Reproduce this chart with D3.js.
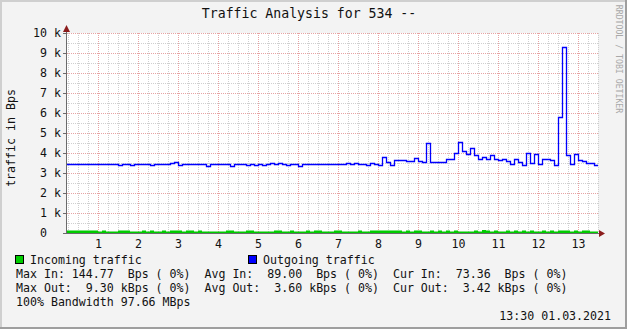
<!DOCTYPE html>
<html>
<head>
<meta charset="utf-8">
<script src="https://cdn.jsdelivr.net/npm/d3@7/dist/d3.min.js"></script>
<style>
  html, body { margin: 0; padding: 0; background: #f3f3f3; }
  svg { display: block; }
  text { font-family: "DejaVu Sans Mono", monospace; white-space: pre; }
</style>
</head>
<body>
<div id="chart"></div>
<script>
// time axis in hours, one sample every 6 minutes
const startHour = 0.2;
const stepHours = 0.1;
const endHour = 13.5;
const xTicks = [1, 2, 3, 4, 5, 6, 7, 8, 9, 10, 11, 12, 13];
const yTicks = [0, 1000, 2000, 3000, 4000, 5000, 6000, 7000, 8000, 9000, 10000];
const yTickLabels = ['0', '1 k', '2 k', '3 k', '4 k', '5 k', '6 k', '7 k', '8 k', '9 k', '10 k'];

// outgoing traffic, kBps
const outgoing = [
  3.47, 3.44, 3.47, 3.47, 3.45, 3.45, 3.47, 3.47, 3.45, 3.47,
  3.44, 3.46, 3.46, 3.42, 3.46, 3.47, 3.41, 3.46, 3.45, 3.47,
  3.45, 3.42, 3.47, 3.44, 3.46, 3.46, 3.50, 3.57, 3.38, 3.47,
  3.44, 3.46, 3.47, 3.43, 3.45, 3.37, 3.46, 3.47, 3.47, 3.46,
  3.46, 3.35, 3.47, 3.47, 3.46, 3.42, 3.46, 3.42, 3.47, 3.40,
  3.46, 3.49, 3.46, 3.50, 3.47, 3.40, 3.47, 3.46, 3.33, 3.46,
  3.46, 3.46, 3.46, 3.46, 3.47, 3.47, 3.46, 3.46, 3.46, 3.46,
  3.50, 3.45, 3.48, 3.46, 3.47, 3.42, 3.48, 3.47, 3.38, 3.82,
  3.57, 3.40, 3.65, 3.65, 3.65, 3.60, 3.62, 3.73, 3.60, 3.55,
  4.48, 3.53, 3.53, 3.55, 3.53, 3.70, 3.70, 4.00, 4.53, 4.10,
  3.95, 4.23, 3.90, 3.68, 3.78, 3.72, 3.88, 3.68, 3.67, 3.70,
  3.60, 3.45, 3.70, 3.55, 3.40, 4.02, 3.50, 3.95, 3.45, 3.70,
  3.68, 3.67, 3.40, 5.80, 9.30, 3.90, 3.45, 3.95, 3.65, 3.60,
  3.50, 3.48, 3.42
];

// incoming traffic, Bps
const incoming = [
  125, 125, 130, 128, 126, 130, 122, 124, 76, 128,
  74, 72, 75, 125, 122, 126, 74, 73, 76, 120,
  75, 124, 72, 74, 127, 73, 125, 128, 122, 74,
  121, 124, 75, 126, 73, 72, 74, 76, 73, 75,
  128, 126, 74, 73, 75, 122, 124, 73, 72, 75,
  74, 76, 125, 124, 73, 72, 121, 74, 73, 75,
  123, 75, 127, 122, 73, 75, 74, 128, 126, 73,
  74, 76, 72, 125, 73, 74, 123, 127, 125, 130,
  128, 126, 122, 124, 72, 126, 73, 125, 122, 75,
  74, 124, 72, 126, 73, 125, 74, 122, 73, 76,
  74, 73, 126, 75, 145, 128, 74, 124, 73, 75,
  123, 74, 126, 73, 122, 75, 125, 74, 73, 126,
  74, 128, 73, 124, 127, 130, 73, 125, 74, 126,
  122, 74, 73
];

const legendRows = [
  'Max In: 144.77  Bps ( 0%)  Avg In:  89.00  Bps ( 0%)  Cur In:  73.36  Bps ( 0%)',
  'Max Out:  9.30 kBps ( 0%)  Avg Out:  3.60 kBps ( 0%)  Cur Out:  3.42 kBps ( 0%)',
  '100% Bandwidth 97.66 MBps'
];

const W = 627, H = 329;
const plot = { left: 67, right: 598, top: 33, bottom: 233 };

const svg = d3.select('#chart').append('svg')
  .attr('width', W)
  .attr('height', H);

// background and 3D frame
svg.append('rect').attr('width', W).attr('height', H).attr('fill', '#f3f3f3');
svg.append('rect').attr('x', 0).attr('y', 0).attr('width', W).attr('height', 2).attr('fill', '#cfcfcf');
svg.append('rect').attr('x', 0).attr('y', 0).attr('width', 2).attr('height', H).attr('fill', '#cfcfcf');
svg.append('rect').attr('x', 0).attr('y', H - 2).attr('width', W).attr('height', 2).attr('fill', '#9e9e9e');
svg.append('rect').attr('x', W - 2).attr('y', 0).attr('width', 2).attr('height', H).attr('fill', '#9e9e9e');

const x = d3.scaleLinear().domain([startHour + 0.025, endHour]).range([plot.left, plot.right]);
const y = d3.scaleLinear().domain([0, 10000]).range([plot.bottom, plot.top]);

svg.append('rect')
  .attr('x', plot.left).attr('y', plot.top)
  .attr('width', plot.right - plot.left).attr('height', plot.bottom - plot.top)
  .attr('fill', '#ffffff');

// minor grid
const minorX = d3.range(0.25, endHour + 0.001, 0.25).filter(t => t % 1 !== 0);
const minorY = d3.range(500, 10000, 1000);
const grid = svg.append('g').attr('shape-rendering', 'crispEdges');
grid.selectAll('.mx').data(minorX).enter().append('line')
  .attr('x1', d => Math.round(x(d)) + 0.5).attr('x2', d => Math.round(x(d)) + 0.5)
  .attr('y1', plot.top).attr('y2', plot.bottom)
  .attr('stroke', '#cfcfcf').attr('stroke-dasharray', '1,1');
grid.selectAll('.my').data(minorY).enter().append('line')
  .attr('x1', plot.left).attr('x2', plot.right)
  .attr('y1', d => Math.round(y(d)) + 0.5).attr('y2', d => Math.round(y(d)) + 0.5)
  .attr('stroke', '#cfcfcf').attr('stroke-dasharray', '1,1');

// major grid
grid.selectAll('.Mx').data(xTicks).enter().append('line')
  .attr('x1', d => Math.round(x(d)) + 0.5).attr('x2', d => Math.round(x(d)) + 0.5)
  .attr('y1', plot.top).attr('y2', plot.bottom)
  .attr('stroke', '#e7a3a3').attr('stroke-dasharray', '1,1');
grid.selectAll('.My').data(yTicks.slice(1)).enter().append('line')
  .attr('x1', plot.left).attr('x2', plot.right)
  .attr('y1', d => Math.round(y(d)) + 0.5).attr('y2', d => Math.round(y(d)) + 0.5)
  .attr('stroke', '#e7a3a3').attr('stroke-dasharray', '1,1');

// series
const times = d3.range(outgoing.length).map(i => startHour + i * stepHours);
const outPts = times.map((t, i) => [t, outgoing[i] * 1000]).concat([[endHour, outgoing[outgoing.length - 1] * 1000]]);
const inPts = times.map((t, i) => [t, incoming[i]]).concat([[endHour, incoming[incoming.length - 1]]]);

svg.append('clipPath').attr('id', 'clip')
  .append('rect')
  .attr('x', plot.left).attr('y', plot.top - 2)
  .attr('width', plot.right - plot.left).attr('height', plot.bottom - plot.top + 2);

const series = svg.append('g').attr('clip-path', 'url(#clip)');

series.append('path')
  .datum(inPts)
  .attr('d', d3.area().curve(d3.curveStepAfter).x(d => x(d[0])).y0(y(0)).y1(d => y(d[1])))
  .attr('fill', '#00cc00');

series.append('path')
  .datum(outPts)
  .attr('d', d3.line().curve(d3.curveStepAfter).x(d => Math.round(x(d[0])) + 0.5).y(d => Math.round(y(d[1])) + 0.5))
  .attr('fill', 'none')
  .attr('stroke', '#0000ff')
  .attr('stroke-width', 1.3);

// axes
const axisColor = '#6b6b6b';
svg.append('line')
  .attr('x1', plot.left - 0.5).attr('x2', plot.left - 0.5)
  .attr('y1', plot.top - 3).attr('y2', plot.bottom + 1)
  .attr('stroke', axisColor);
svg.append('line')
  .attr('x1', plot.left - 1).attr('x2', plot.right + 1)
  .attr('y1', plot.bottom + 0.5).attr('y2', plot.bottom + 0.5)
  .attr('stroke', axisColor);
svg.selectAll('.yt').data(yTicks).enter().append('line')
  .attr('x1', plot.left - 4).attr('x2', plot.left - 1)
  .attr('y1', d => Math.round(y(d)) + 0.5).attr('y2', d => Math.round(y(d)) + 0.5)
  .attr('stroke', axisColor);

// arrows
svg.append('path')
  .attr('d', `M${plot.left - 4},${plot.top - 1} L${plot.left - 0.5},${plot.top - 8} L${plot.left + 3},${plot.top - 1} Z`)
  .attr('fill', '#8b1c1c');
svg.append('path')
  .attr('d', `M${plot.right + 1},${plot.bottom - 3} L${plot.right + 7},${plot.bottom + 0.5} L${plot.right + 1},${plot.bottom + 4} Z`)
  .attr('fill', '#8b1c1c');

// tick labels
const fs = '11.6px';
svg.selectAll('.yl').data(yTicks).enter().append('text')
  .attr('x', (d, i) => i === 0 ? 47 : 61)
  .attr('y', d => y(d) + 4.2)
  .attr('text-anchor', 'end')
  .attr('font-size', fs)
  .attr('fill', '#111')
  .text((d, i) => yTickLabels[i]);

svg.selectAll('.xl').data(xTicks).enter().append('text')
  .attr('x', d => x(d) + 0.5)
  .attr('y', 247.5)
  .attr('text-anchor', 'middle')
  .attr('font-size', fs)
  .attr('fill', '#111')
  .text(d => d);

// title and axis caption
svg.append('text')
  .attr('x', 309).attr('y', 18)
  .attr('text-anchor', 'middle')
  .attr('font-size', '13.2px')
  .attr('fill', '#111')
  .text('Traffic Analysis for 534 --');

svg.append('text')
  .attr('transform', 'translate(15,138) rotate(-90)')
  .attr('text-anchor', 'middle')
  .attr('font-size', fs)
  .attr('fill', '#111')
  .text('traffic in Bps');

svg.append('text')
  .attr('transform', 'translate(616,59) rotate(90)')
  .attr('text-anchor', 'middle')
  .attr('font-size', '8.2px')
  .attr('fill', '#a8a8a8')
  .text('RRDTOOL / TOBI OETIKER');

// legend
const legendItems = [
  { label: 'Incoming traffic', color: '#00cc00', x: 15 },
  { label: 'Outgoing traffic', color: '#0000ff', x: 248 }
];
legendItems.forEach(item => {
  svg.append('rect')
    .attr('x', item.x + 0.5).attr('y', 255.5)
    .attr('width', 8).attr('height', 8)
    .attr('fill', item.color)
    .attr('stroke', '#000')
    .attr('stroke-width', 1);
  svg.append('text')
    .attr('x', item.x + 15).attr('y', 263.5)
    .attr('font-size', fs)
    .attr('fill', '#111')
    .text(item.label);
});

legendRows.forEach((row, i) => {
  svg.append('text')
    .attr('x', 16).attr('y', 277.5 + i * 14)
    .attr('font-size', fs)
    .attr('fill', '#111')
    .text(row);
});

svg.append('text')
  .attr('x', 611).attr('y', 319.5)
  .attr('text-anchor', 'end')
  .attr('font-size', fs)
  .attr('fill', '#111')
  .text('13:30 01.03.2021');
</script>
</body>
</html>
